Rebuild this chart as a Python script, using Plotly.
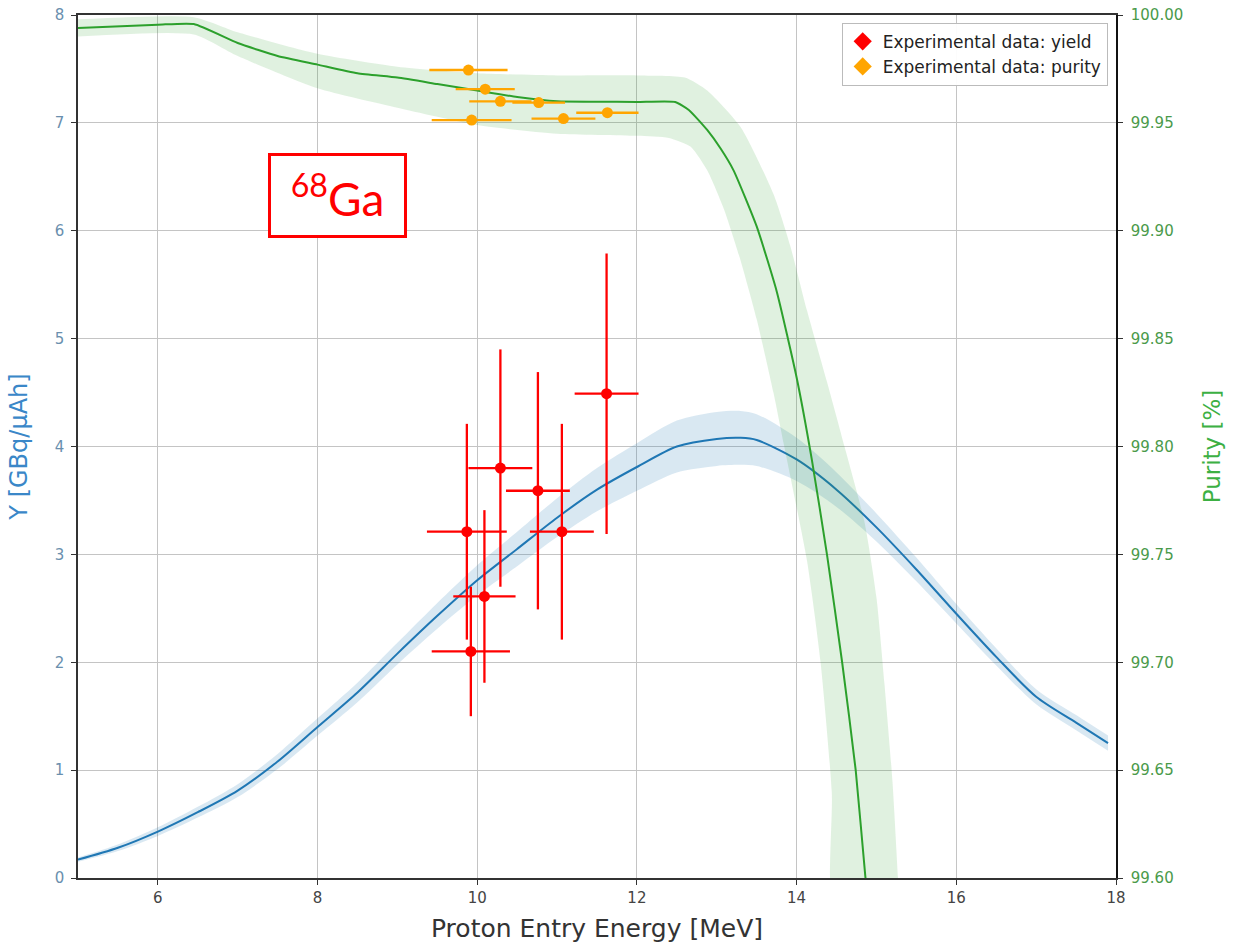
import plotly.graph_objects as go

# ---------------- data ----------------
energy = [5, 5.5, 6, 6.5, 7, 7.5, 8, 8.5, 9, 9.5, 10, 10.5, 11, 11.5, 12, 12.5,
          13, 13.3, 13.5, 14, 14.5, 15, 15.5, 16, 16.5, 17, 17.5, 17.9]
yield_sim = [0.17, 0.28, 0.43, 0.61, 0.81, 1.08, 1.40, 1.72, 2.08, 2.43, 2.76, 3.05,
             3.34, 3.60, 3.81, 4.00, 4.07, 4.08, 4.06, 3.88, 3.60, 3.25, 2.86, 2.45,
             2.05, 1.68, 1.44, 1.25]
yield_unc = [0.02, 0.03, 0.04, 0.05, 0.06, 0.07, 0.08, 0.09, 0.10, 0.12, 0.14, 0.16,
             0.18, 0.20, 0.22, 0.24, 0.25, 0.25, 0.24, 0.20, 0.16, 0.13, 0.11, 0.09,
             0.08, 0.07, 0.07, 0.07]

pur_energy = [5, 6, 6.45, 7, 7.5, 8, 8.5, 9, 9.5, 10, 10.5, 11, 11.5, 12, 12.48,
              12.65, 12.88, 13.05, 13.21, 13.5, 13.75, 14.0, 14.19, 14.38, 14.57,
              14.74, 14.86, 14.95]
purity_sim = [99.994, 99.9955, 99.9958, 99.987, 99.981, 99.977, 99.973, 99.971,
              99.968, 99.965, 99.962, 99.960, 99.9598, 99.9597, 99.9597, 99.956,
              99.9467, 99.938, 99.928, 99.902, 99.872, 99.832, 99.794, 99.750,
              99.700, 99.650, 99.601, 99.57]

# purity uncertainty band: upper/right edge and lower/left edge
band_hi_x = [5, 6.45, 7, 8, 9, 10, 11, 12, 12.6, 12.88, 13.3, 13.71, 13.92, 14.13,
             14.38, 14.6, 14.85, 15.0, 15.1, 15.2, 15.27, 15.3]
band_hi_y = [99.998, 99.999, 99.992, 99.982, 99.976, 99.973, 99.972, 99.972, 99.971,
             99.965, 99.948, 99.917, 99.893, 99.863, 99.83, 99.80, 99.765, 99.73,
             99.69, 99.645, 99.60, 99.58]
band_lo_x = [5, 6.45, 7, 8, 9, 10, 11, 12, 12.4, 12.67, 12.88, 13.09, 13.3, 13.5,
             13.71, 13.84, 14.13, 14.3, 14.44, 14.49]
band_lo_y = [99.990, 99.991, 99.981, 99.966, 99.957, 99.949, 99.945, 99.944, 99.943,
             99.939, 99.928, 99.910, 99.886, 99.859, 99.825, 99.801, 99.747, 99.70,
             99.64, 99.58]

# experimental yield
exp_y_e = [9.87, 10.09, 9.92, 10.29, 10.76, 11.06, 11.62]
exp_y = [3.21, 2.61, 2.10, 3.80, 3.59, 3.21, 4.49]
exp_y_ex = [0.50, 0.39, 0.49, 0.40, 0.40, 0.40, 0.40]
exp_y_ey = [1.00, 0.80, 0.60, 1.10, 1.10, 1.00, 1.30]

# experimental purity
exp_p_e = [9.89, 10.10, 10.29, 10.77, 9.93, 11.08, 11.63]
exp_p = [99.9745, 99.9656, 99.960, 99.9594, 99.9513, 99.952, 99.9547]
exp_p_ex = [0.49, 0.37, 0.39, 0.33, 0.50, 0.40, 0.39]

x_ticks = [6, 8, 10, 12, 14, 16, 18]
y_ticks = [0, 1, 2, 3, 4, 5, 6, 7, 8]
p_ticks = [99.60, 99.65, 99.70, 99.75, 99.80, 99.85, 99.90, 99.95, 100.00]
p_labels = ["%.2f" % v for v in p_ticks]

FONT = "DejaVu Sans"
BLUE = "#1f77b4"
GREEN = "#2ca02c"

fig = go.Figure()

# yield band
fig.add_trace(go.Scatter(x=energy, y=[a + b for a, b in zip(yield_sim, yield_unc)],
                         mode="lines", line=dict(width=0, shape="spline", smoothing=0.8),
                         showlegend=False, hoverinfo="skip"))
fig.add_trace(go.Scatter(x=energy, y=[a - b for a, b in zip(yield_sim, yield_unc)],
                         mode="lines", line=dict(width=0, shape="spline", smoothing=0.8),
                         fill="tonexty", fillcolor="rgba(31,119,180,0.17)",
                         showlegend=False, hoverinfo="skip"))
fig.add_trace(go.Scatter(x=energy, y=yield_sim, mode="lines",
                         line=dict(color=BLUE, width=2, shape="spline", smoothing=0.8),
                         showlegend=False))

# experimental yield
fig.add_trace(go.Scatter(x=exp_y_e, y=exp_y, mode="markers",
                         marker=dict(color="red", size=11),
                         error_x=dict(type="data", array=exp_y_ex, color="red",
                                      thickness=2.3, width=0),
                         error_y=dict(type="data", array=exp_y_ey, color="red",
                                      thickness=2.3, width=0),
                         showlegend=False))

# purity band (right axis)
fig.add_trace(go.Scatter(x=band_hi_x + band_lo_x[::-1], y=band_hi_y + band_lo_y[::-1],
                         mode="lines", line=dict(width=0, shape="spline", smoothing=0.6),
                         fill="toself", fillcolor="rgba(44,160,44,0.15)", yaxis="y2",
                         showlegend=False, hoverinfo="skip"))
fig.add_trace(go.Scatter(x=pur_energy, y=purity_sim, mode="lines", yaxis="y2",
                         line=dict(color=GREEN, width=2, shape="spline", smoothing=0.5),
                         showlegend=False))

# experimental purity
fig.add_trace(go.Scatter(x=exp_p_e, y=exp_p, mode="markers", yaxis="y2",
                         marker=dict(color="orange", size=11),
                         error_x=dict(type="data", array=exp_p_ex, color="orange",
                                      thickness=2.3, width=0),
                         showlegend=False))

# legend entries
fig.add_trace(go.Scatter(x=[None], y=[None], mode="markers",
                         marker=dict(color="red", size=14, symbol="diamond"),
                         name="Experimental data: yield"))
fig.add_trace(go.Scatter(x=[None], y=[None], mode="markers",
                         marker=dict(color="orange", size=14, symbol="diamond"),
                         name="Experimental data: purity"))

fig.add_annotation(text="<sup>68</sup>Ga", xref="paper", yref="paper",
                   x=0.25, y=0.791, xanchor="center", yanchor="middle",
                   showarrow=False, font=dict(family="Lato", size=46, color="red"),
                   bordercolor="red", borderwidth=3, borderpad=4,
                   width=125, height=71, bgcolor="white")

axis_common = dict(showgrid=True, gridcolor="#c4c4c4", gridwidth=1,
                   ticks="outside", ticklen=5, tickcolor="#333",
                   showline=True, linecolor="#333", linewidth=1.5, zeroline=False,
                   automargin=False)

fig.update_layout(
    width=1236, height=948,
    margin=dict(l=78, r=120, t=15, b=70),
    paper_bgcolor="white", plot_bgcolor="white",
    font=dict(family=FONT, color="#333"),
    xaxis=dict(range=[5, 18], tickvals=x_ticks, mirror=True,
               tickfont=dict(size=15, color="#444"),
               title=dict(text="Proton Entry Energy [MeV]",
                          font=dict(size=25, color="#333"), standoff=14),
               **axis_common),
    yaxis=dict(range=[0, 8], tickvals=y_ticks, ticklabelstandoff=4,
               tickfont=dict(size=15, color="#6a8fae"),
               title=dict(text="Y [GBq/µAh]", font=dict(size=24, color="#3a87c8"),
                          standoff=20),
               **axis_common),
    yaxis2=dict(range=[99.6, 100.0], tickvals=p_ticks, ticktext=p_labels,
                overlaying="y", side="right", showgrid=False, automargin=False,
                ticks="outside", ticklen=5, tickcolor="#333", ticklabelstandoff=5,
                showline=True, linecolor="#111", linewidth=1.5, zeroline=False,
                tickfont=dict(size=15, color="#4a9a4a"),
                title=dict(text="Purity [%]", font=dict(size=23, color="#3cb043"),
                           standoff=22)),
    legend=dict(x=0.992, y=0.991, xanchor="right", yanchor="top", traceorder="normal",
                bgcolor="rgba(255,255,255,0.95)", bordercolor="#bbbbbb",
                borderwidth=1, font=dict(size=17, color="#222")),
    showlegend=True,
)

# remove the default page margin so the figure fills the window exactly
fig.write_html("out.html", config={"displayModeBar": False},
               post_script="document.body.style.margin='0';")
